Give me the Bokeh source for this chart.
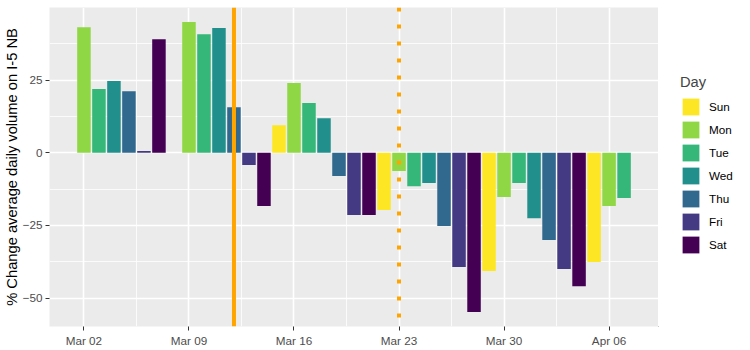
import pandas as pd
from bokeh.plotting import figure
from bokeh.layouts import row
from bokeh.models import (ColumnDataSource, Range1d, FixedTicker, Span, Legend,
                          LegendItem, DatetimeTickFormatter)
from bokeh.embed import file_html
from bokeh.resources import INLINE

# ---- data ----
dates = ["2020-03-02", "2020-03-03", "2020-03-04", "2020-03-05", "2020-03-06", "2020-03-07",
         "2020-03-09", "2020-03-10", "2020-03-11", "2020-03-12", "2020-03-13", "2020-03-14",
         "2020-03-15", "2020-03-16", "2020-03-17", "2020-03-18", "2020-03-19", "2020-03-20",
         "2020-03-21", "2020-03-22", "2020-03-23", "2020-03-24", "2020-03-25", "2020-03-26",
         "2020-03-27", "2020-03-28", "2020-03-29", "2020-03-30", "2020-03-31", "2020-04-01",
         "2020-04-02", "2020-04-03", "2020-04-04", "2020-04-05", "2020-04-06", "2020-04-07"]
pct_change = [43.2, 21.9, 24.7, 21.2, 0.6, 39.1,
              45.0, 40.8, 42.9, 15.7, -4.2, -18.3,
              9.5, 24.0, 17.1, 11.9, -8.0, -21.4,
              -21.4, -19.7, -6.3, -11.5, -10.4, -25.2,
              -39.3, -54.8, -40.7, -15.2, -10.4, -22.5,
              -30.0, -40.0, -45.9, -37.6, -18.3, -15.6]
day_names = ["Sun", "Mon", "Tue", "Wed", "Thu", "Fri", "Sat"]
day_colors = ["#FDE725", "#8FD744", "#35B779", "#21908C", "#31688E", "#443A83", "#440154"]
tick_dates = ["2020-03-02", "2020-03-09", "2020-03-16", "2020-03-23", "2020-03-30", "2020-04-06"]
y_ticks = [-50, -25, 0, 25]
solid_event = "2020-03-12"
dotted_event = "2020-03-23"

DAY_MS = 86400000.0


def to_ms(s):
    return (pd.Timestamp(s) - pd.Timestamp("1970-01-01")) / pd.Timedelta("1ms")


x_ms = [to_ms(d) for d in dates]
weekday = [pd.Timestamp(d).strftime("%a") for d in dates]

bar_w = 0.9 * DAY_MS
xlo = min(x_ms) - bar_w / 2
xhi = max(x_ms) + bar_w / 2
xpad = 0.05 * (xhi - xlo)
ylo = min(min(pct_change), 0)
yhi = max(max(pct_change), 0)
ypad = 0.05 * (yhi - ylo)

p = figure(width=658, height=350, x_axis_type="datetime", output_backend="svg",
           toolbar_location=None,
           x_range=Range1d(xlo - xpad, xhi + xpad),
           y_range=Range1d(ylo - ypad, yhi + ypad),
           min_border_left=49, min_border_right=0, min_border_top=7, min_border_bottom=24)

p.background_fill_color = "#EBEBEB"
p.border_fill_color = "white"
p.outline_line_color = None

# grid
tick_ms = [to_ms(d) for d in tick_dates]
step = tick_ms[1] - tick_ms[0]
x_minor = [t - step / 2 for t in tick_ms] + [tick_ms[-1] + step / 2]
ystep = y_ticks[1] - y_ticks[0]
y_minor = [t - ystep / 2 for t in y_ticks] + [y_ticks[-1] + ystep / 2]

p.xaxis.ticker = FixedTicker(ticks=tick_ms, minor_ticks=x_minor)
p.yaxis.ticker = FixedTicker(ticks=y_ticks, minor_ticks=y_minor)
for g in (p.xgrid, p.ygrid):
    g.grid_line_color = "white"
    g.grid_line_width = 1.6
    g.minor_grid_line_color = "white"
    g.minor_grid_line_width = 0.8
p.xgrid.ticker = p.xaxis.ticker
p.ygrid.ticker = p.yaxis.ticker

p.xaxis.formatter = DatetimeTickFormatter(days="%b %d", months="%b %d", hours="%b %d")

for ax in (p.xaxis, p.yaxis):
    ax.axis_line_color = None
    ax.major_tick_line_color = "#333333"
    ax.major_tick_out = 4
    ax.major_tick_in = 0
    ax.minor_tick_out = 0
    ax.minor_tick_in = 0
    ax.major_label_text_font = "Liberation Sans"
    ax.major_label_text_font_size = "11.7px"
    ax.major_label_text_color = "#4D4D4D"
    ax.major_label_standoff = 3

p.yaxis.axis_label = "% Change average daily volume on I-5 NB"
p.yaxis.axis_label_text_font = "Liberation Sans"
p.yaxis.axis_label_text_font_size = "14.7px"
p.yaxis.axis_label_text_font_style = "normal"
p.yaxis.axis_label_text_color = "black"
p.yaxis.axis_label_standoff = 0

# bars, one renderer per weekday
renderers = {}
for name, color in zip(day_names, day_colors):
    idx = [i for i, w in enumerate(weekday) if w == name]
    src = ColumnDataSource(dict(x=[x_ms[i] for i in idx], top=[pct_change[i] for i in idx]))
    renderers[name] = p.vbar(x="x", top="top", bottom=0, width=bar_w, source=src,
                             fill_color=color, line_color=None)

# event lines
p.add_layout(Span(location=to_ms(solid_event), dimension="height",
                  line_color="#FFA500", line_width=4))
p.add_layout(Span(location=to_ms(dotted_event), dimension="height",
                  line_color="#FFA500", line_width=4, line_dash="4 13"))

# legend in a narrow companion figure (key glyphs sit outside its visible range)
lf = figure(width=92, height=350, output_backend="svg", toolbar_location=None,
            x_range=Range1d(0, 1), y_range=Range1d(0, 1),
            min_border_left=0, min_border_right=0, min_border_top=0, min_border_bottom=0)
lf.axis.visible = False
lf.grid.visible = False
lf.outline_line_color = None
lf.background_fill_color = "white"
lf.border_fill_color = "white"
key_renderers = {}
for name, color in zip(day_names, day_colors):
    key_renderers[name] = lf.vbar(x=[-5], top=[-5], bottom=-6, width=1,
                                  fill_color=color, line_color=None)

legend = Legend(items=[LegendItem(label=n, renderers=[key_renderers[n]]) for n in day_names],
                location=(22, 71), orientation="vertical")
legend.title = "Day"
legend.title_text_font = "Liberation Sans"
legend.title_text_font_size = "14.7px"
legend.title_text_font_style = "normal"
legend.title_standoff = 6
legend.label_text_font = "Liberation Sans"
legend.label_text_font_size = "11.7px"
legend.label_text_color = "black"
legend.glyph_width = 21
legend.glyph_height = 21
legend.spacing = 2
legend.label_standoff = 8
legend.padding = 0
legend.margin = 0
legend.border_line_color = None
legend.background_fill_alpha = 0
lf.add_layout(legend, "center")

layout = row(p, lf)
open("out.html", "w").write(file_html(layout, INLINE))
